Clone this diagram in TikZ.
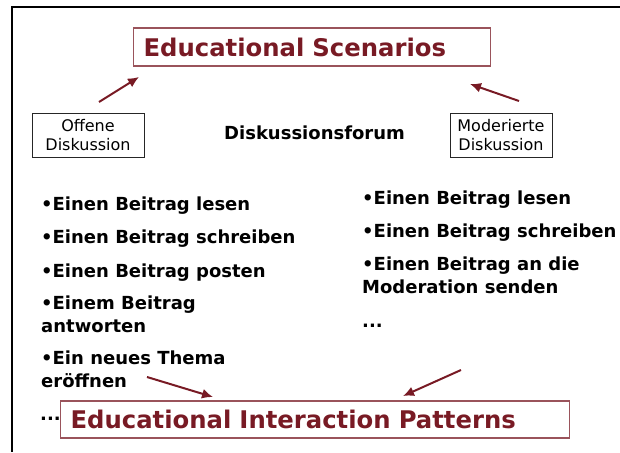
\documentclass[tikz,border=0pt]{standalone}
\usepackage{fontspec}
\setmainfont{DejaVu Sans}
\usetikzlibrary{arrows.meta}
\definecolor{edured}{RGB}{120,26,36}

\begin{document}
\begin{tikzpicture}[x=1pt, y=-1pt,
  every node/.style={inner sep=0pt},
  headbox/.style={draw=edured!75, line width=1.2pt, anchor=west, text=edured,
    font=\fontsize{24.3}{28}\selectfont\bfseries, inner xsep=10pt, align=left},
  discbox/.style={draw=black!85, line width=0.8pt, minimum height=44pt,
    align=center, font=\fontsize{16}{19}\selectfont},
  item/.style={anchor=base west, align=left, font=\fontsize{18}{23}\selectfont\bfseries},
  flow/.style={draw=edured, line width=2pt, -{Latex[length=11pt,width=10pt]}}]

\useasboundingbox (0,0) rectangle (620,452);
% frame
\draw[line width=2.5pt] (620,7) -- (12,7) -- (12,452);

% top row
\node[headbox, text width=337pt, minimum height=38pt] (scen) at (133,47) {Educational Scenarios};
\node[discbox, minimum width=112pt] (offen) at (88,135) {Offene\\Diskussion};
\node[discbox, minimum width=102pt] (moder) at (501,135) {Moderierte\\Diskussion};
\node[item] (forum) at (224,139) {Diskussionsforum};

% left column (base = last line)
\node[item] (l1) at (41,210) {•Einen Beitrag lesen};
\node[item] (l2) at (41,243) {•Einen Beitrag schreiben};
\node[item] (l3) at (41,277) {•Einen Beitrag posten};
\node[item] (l4) at (41,332) {•Einem Beitrag\\antworten};
\node[item] (l5) at (41,387) {•Ein neues Thema\\eröffnen};
\node[item] (l6) at (40,420) {...};

% right column
\node[item] (r1) at (362,204) {•Einen Beitrag lesen};
\node[item] (r2) at (362,237) {•Einen Beitrag schreiben};
\node[item] (r3) at (362,293) {•Einen Beitrag an die\\Moderation senden};
\node[item] (r4) at (362,327) {...};

% bottom
\node[headbox, text width=489pt, minimum height=37pt] (pattern) at (60,419.5) {Educational Interaction Patterns};

% arrows
\coordinate (t1) at (99,102);
\coordinate (h1) at (139,77);
\coordinate (t2) at (519,101);
\coordinate (h2) at (470,84);
\coordinate (t3) at (147,377);
\coordinate (h3) at (213,397);
\coordinate (t4) at (461,370);
\coordinate (h4) at (403,396);
\draw[flow] (t1) -- (h1);
\draw[flow] (t2) -- (h2);
\draw[flow] (t3) -- (h3);
\draw[flow] (t4) -- (h4);
\end{tikzpicture}
\end{document}
